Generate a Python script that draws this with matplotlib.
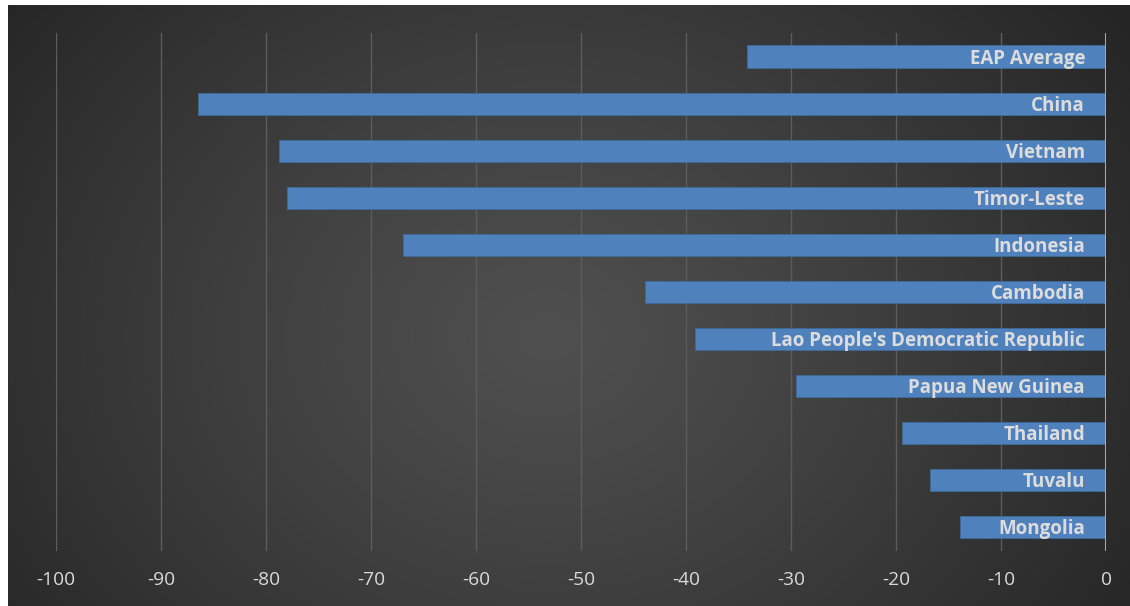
import numpy as np
import matplotlib
matplotlib.use("Agg")
import matplotlib.pyplot as plt

countries = ["EAP Average", "China", "Vietnam", "Timor-Leste", "Indonesia", "Cambodia",
             "Lao People's Democratic Republic", "Papua New Guinea", "Thailand",
             "Tuvalu", "Mongolia"]
values = [-34.2, -86.5, -78.8, -78.0, -67.0, -43.9, -39.1, -29.5, -19.4, -16.8, -13.9]
ticks = [-100, -90, -80, -70, -60, -50, -40, -30, -20, -10, 0]

W, H = 1130, 606
fig = plt.figure(figsize=(W / 100, H / 100), dpi=100)
fig.patch.set_facecolor("white")

# dark radial-gradient panel behind the chart
bg = fig.add_axes([8 / W, 0, 1 - 8 / W, (H - 5) / H])
bg.set_axis_off()
ny, nx = 300, 560
yy, xx = np.mgrid[0:ny, 0:nx]
cx, cy = nx * 0.48, ny * 0.55
r = np.sqrt(((xx - cx) / (nx * 0.62)) ** 2 + ((yy - cy) / (ny * 0.95)) ** 2)
r = np.clip(r, 0, 1)
c_in, c_out = 0x4f / 255, 0x25 / 255
shade = c_in + (c_out - c_in) * r ** 1.2
img = np.dstack([shade, shade, shade])
bg.imshow(img, aspect="auto", extent=[0, 1, 0, 1], interpolation="bilinear")
bg.set_xlim(0, 1)
bg.set_ylim(0, 1)

ax = fig.add_axes([56 / W, 55.5 / H, 1050 / W, 517.5 / H])
ax.patch.set_alpha(0)
ypos = np.arange(len(countries))
ax.barh(ypos, values, height=0.47, color="#4f81bd", edgecolor="#3f6a9c", linewidth=0.6, zorder=3)
ax.set_xlim(-100, 0)
ax.set_ylim(len(countries) - 0.5, -0.5)
ax.set_xticks(ticks)
ax.set_xticklabels([str(t) for t in ticks])
ax.set_yticks([])
for s in ax.spines.values():
    s.set_visible(False)
ax.grid(axis="x", color="#5c5c5c", linewidth=1.0, zorder=0)
ax.axvline(0, color="#a8a8a8", linewidth=2.2, zorder=4)
ax.tick_params(axis="x", length=0, pad=15, labelsize=13.8, labelcolor="#d9d9d9")
for lab in ax.get_xticklabels():
    lab.set_family(["Open Sans", "DejaVu Sans"])

for y, name in zip(ypos, countries):
    ax.annotate(name, xy=(0, y), xytext=(-21, -2), textcoords="offset pixels",
                ha="right", va="center", color="#dcdcdc", fontsize=13.5, fontweight="bold",
                family=["Open Sans", "DejaVu Sans"], zorder=5)

fig.savefig("out.png", dpi=100, facecolor=fig.get_facecolor())
